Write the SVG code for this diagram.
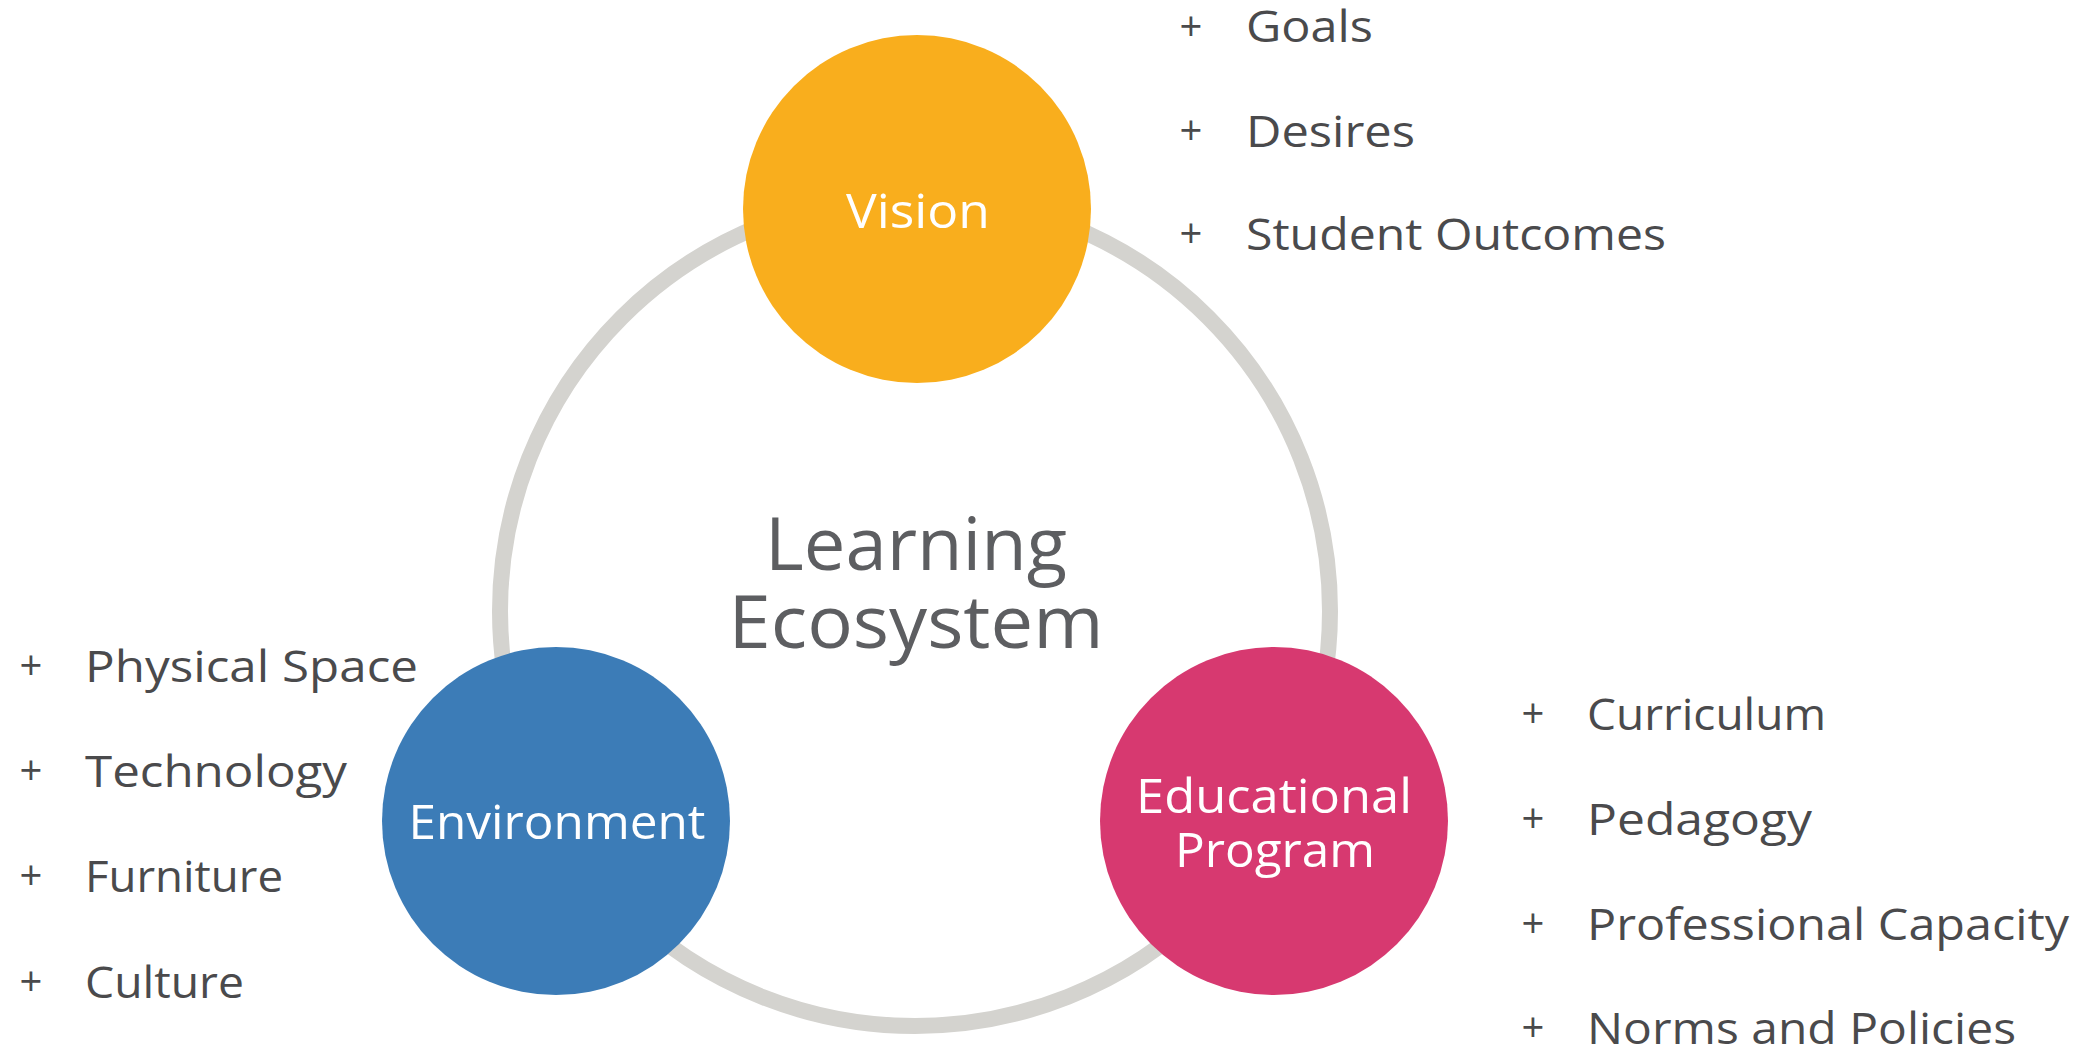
<svg xmlns="http://www.w3.org/2000/svg" width="2091" height="1045" viewBox="0 0 2091 1045">
<style>
.ring{fill:none;stroke:#d4d3cf;stroke-width:16}
.lbl{font-family:"Open Sans","Lato","Liberation Sans",sans-serif;fill:#ffffff;text-anchor:middle;font-size:47px}
.item{font-family:"Open Sans","Lato","Liberation Sans",sans-serif;fill:#4a4a4c;font-size:44px}
.plus{font-family:"Open Sans","Lato","Liberation Sans",sans-serif;fill:#4a4a4c;font-size:40px;text-anchor:middle}
.center{font-family:"Open Sans","Lato","Liberation Sans",sans-serif;fill:#5d5e61;font-size:73px;text-anchor:middle}
</style>
<rect width="2091" height="1045" fill="#ffffff"/>
<g id="connectors">
<circle class="ring" cx="915" cy="611" r="415"/>
</g>
<g id="center-label">
<text class="center" x="916" y="570" textLength="302" lengthAdjust="spacingAndGlyphs">Learning</text>
<text class="center" x="916" y="648" textLength="375" lengthAdjust="spacingAndGlyphs">Ecosystem</text>
</g>
<g id="vision">
<circle cx="917" cy="209" r="174" fill="#f9ae1d"/>
<text class="lbl" x="918" y="228" textLength="144" lengthAdjust="spacingAndGlyphs">Vision</text>
<text class="plus" x="1191" y="41">+</text>
<text class="item" x="1246" y="42" textLength="127" lengthAdjust="spacingAndGlyphs">Goals</text>
<text class="plus" x="1191" y="145">+</text>
<text class="item" x="1246" y="147" textLength="169" lengthAdjust="spacingAndGlyphs">Desires</text>
<text class="plus" x="1191" y="248">+</text>
<text class="item" x="1246" y="250" textLength="420" lengthAdjust="spacingAndGlyphs">Student Outcomes</text>
</g>
<g id="environment">
<circle cx="556" cy="821" r="174" fill="#3c7cb7"/>
<text class="lbl" x="557" y="839" textLength="297" lengthAdjust="spacingAndGlyphs">Environment</text>
<text class="plus" x="31" y="680">+</text>
<text class="item" x="85" y="682" textLength="333" lengthAdjust="spacingAndGlyphs">Physical Space</text>
<text class="plus" x="31" y="785">+</text>
<text class="item" x="85" y="787" textLength="262" lengthAdjust="spacingAndGlyphs">Technology</text>
<text class="plus" x="31" y="890">+</text>
<text class="item" x="85" y="892" textLength="198" lengthAdjust="spacingAndGlyphs">Furniture</text>
<text class="plus" x="31" y="996">+</text>
<text class="item" x="85" y="998" textLength="159" lengthAdjust="spacingAndGlyphs">Culture</text>
</g>
<g id="educational-program">
<circle cx="1274" cy="821" r="174" fill="#d73970"/>
<text class="lbl" x="1274" y="813" textLength="276" lengthAdjust="spacingAndGlyphs">Educational</text>
<text class="lbl" x="1275" y="867" textLength="200" lengthAdjust="spacingAndGlyphs">Program</text>
<text class="plus" x="1533" y="728">+</text>
<text class="item" x="1587" y="730" textLength="239" lengthAdjust="spacingAndGlyphs">Curriculum</text>
<text class="plus" x="1533" y="833">+</text>
<text class="item" x="1587" y="835" textLength="225" lengthAdjust="spacingAndGlyphs">Pedagogy</text>
<text class="plus" x="1533" y="938">+</text>
<text class="item" x="1587" y="940" textLength="482" lengthAdjust="spacingAndGlyphs">Professional Capacity</text>
<text class="plus" x="1533" y="1042">+</text>
<text class="item" x="1587" y="1044" textLength="429" lengthAdjust="spacingAndGlyphs">Norms and Policies</text>
</g>
</svg>
